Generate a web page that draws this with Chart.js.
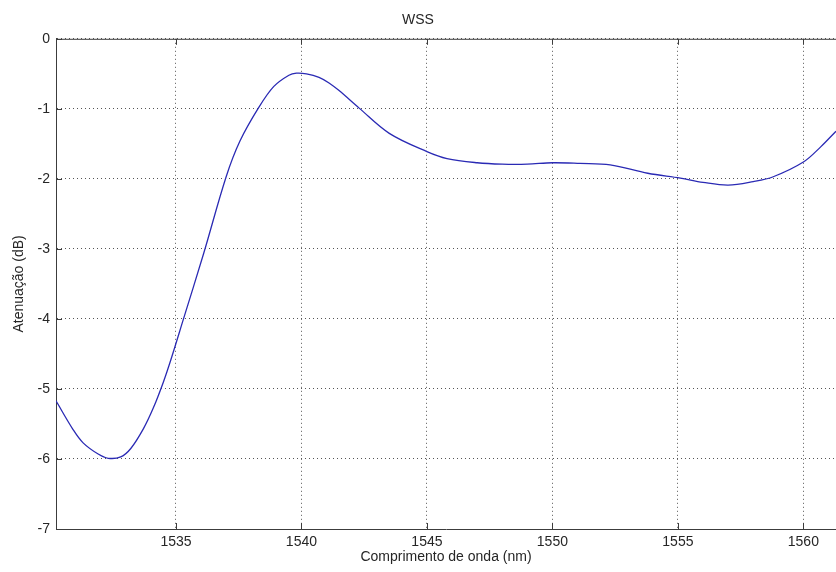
<!DOCTYPE html>
<html>
<head>
<meta charset="utf-8">
<title>WSS</title>
<script src="https://cdn.jsdelivr.net/npm/chart.js@4.4.1/dist/chart.umd.min.js"></script>
<style>
  body { margin: 0; background: #fff; }
  canvas { display: block; }
</style>
</head>
<body>
<canvas id="wss-chart" width="836" height="572"></canvas>
<script>
/* Data */
let wavelengths = [1530.22, 1530.9, 1531.3, 1531.9, 1532.3, 1532.8, 1533.2, 1533.7, 1534.1, 1534.5,
    1534.8, 1535.3, 1536.1, 1537.0, 1537.55, 1538.3, 1538.9, 1539.5, 1539.8, 1540.2,
    1540.7, 1541.1, 1541.5, 1542.3, 1543.5, 1545.0, 1545.8, 1547.0, 1548.0, 1549.0,
    1550.0, 1551.1, 1552.3, 1553.8, 1555.1, 1556.0, 1557.0, 1558.0, 1558.8, 1560.0,
    1560.7, 1561.3]
let attenuation = [-5.17, -5.58, -5.77, -5.93, -5.99, -5.97, -5.85, -5.57, -5.27, -4.9,
    -4.58, -4.0, -3.07, -1.97, -1.46, -0.98, -0.68, -0.52, -0.49, -0.5,
    -0.55, -0.63, -0.74, -0.99, -1.35, -1.61, -1.71, -1.77, -1.79, -1.79,
    -1.77, -1.78, -1.80, -1.92, -1.99, -2.05, -2.09, -2.04, -1.97, -1.76,
    -1.54, -1.32]

let xTicks = [1535, 1540, 1545, 1550, 1555, 1560]
let yTicks = [-7, -6, -5, -4, -3, -2, -1, 0]

let textColor = '#262626'
let axisColor = '#3c3c3c'
let fontFamily = '"Liberation Sans", Arial, Helvetica, sans-serif'

// matlab style: box on top, ticks pointing inward
let matlabAxes = {
    id: 'matlabAxes',
    afterDraw(chart) {
        let ctx = chart.ctx
        let area = chart.chartArea
        let xs = chart.scales.x
        let ys = chart.scales.y
        let len = 6
        ctx.save()
        ctx.strokeStyle = axisColor
        ctx.lineWidth = 1
        ctx.beginPath()
        ctx.moveTo(area.left, area.top + 0.5)
        ctx.lineTo(area.right, area.top + 0.5)
        xTicks.forEach(function(v) {
            let px = Math.round(xs.getPixelForValue(v)) + 0.5
            ctx.moveTo(px, area.top)
            ctx.lineTo(px, area.top + len)
            ctx.moveTo(px, area.bottom)
            ctx.lineTo(px, area.bottom - len)
        })
        yTicks.forEach(function(v) {
            let py = Math.round(ys.getPixelForValue(v)) + 0.5
            ctx.moveTo(area.left, py)
            ctx.lineTo(area.left + len, py)
        })
        ctx.stroke()
        ctx.restore()
    }
}

let ctx = document.querySelector('#wss-chart').getContext('2d')

let wssChart = new Chart(ctx, {
    type: 'line',
    data: {
        datasets: [{
            data: wavelengths.map((w, i) => ({ x: w, y: attenuation[i] })),
            borderColor: '#2a2ab4',
            borderWidth: 1.3,
            pointRadius: 0,
            fill: false,
            tension: 0.35
        }]
    },
    options: {
        responsive: false,
        animation: false,
        layout: { padding: { left: 0, right: 0, top: 0, bottom: 0 } },
        plugins: {
            legend: { display: false },
            tooltip: { enabled: false },
            title: {
                display: true,
                text: 'WSS',
                color: textColor,
                font: { family: fontFamily, size: 14, weight: 'normal' },
                padding: { top: 12, bottom: 10 }
            }
        },
        scales: {
            x: {
                type: 'linear',
                min: 1530.22,
                max: 1561.3,
                afterBuildTicks: function(scale) {
                    scale.ticks = xTicks.map(v => ({ value: v }))
                },
                afterFit: function(scale) { scale.height = 43 },
                ticks: {
                    color: textColor,
                    font: { family: fontFamily, size: 14 },
                    padding: 5,
                    maxRotation: 0,
                    callback: v => String(v)
                },
                grid: { color: '#555', drawTicks: false, lineWidth: 1 },
                border: { display: true, color: axisColor, width: 1, dash: [1, 3] },
                title: {
                    display: true,
                    text: 'Comprimento de onda (nm)',
                    color: textColor,
                    font: { family: fontFamily, size: 14 },
                    padding: { top: 0, bottom: 6 }
                }
            },
            y: {
                type: 'linear',
                min: -7,
                max: 0,
                afterBuildTicks: function(scale) {
                    scale.ticks = yTicks.map(v => ({ value: v }))
                },
                afterFit: function(scale) { scale.width = 56 },
                ticks: {
                    color: textColor,
                    font: { family: fontFamily, size: 14 },
                    padding: 6,
                    callback: v => String(v)
                },
                grid: { color: '#555', drawTicks: false, lineWidth: 1 },
                border: { display: true, color: axisColor, width: 1, dash: [1, 3] },
                title: {
                    display: true,
                    text: 'Atenuação (dB)',
                    color: textColor,
                    font: { family: fontFamily, size: 14 },
                    padding: { top: 11, bottom: 0 }
                }
            }
        }
    },
    plugins: [matlabAxes]
})
</script>
</body>
</html>
